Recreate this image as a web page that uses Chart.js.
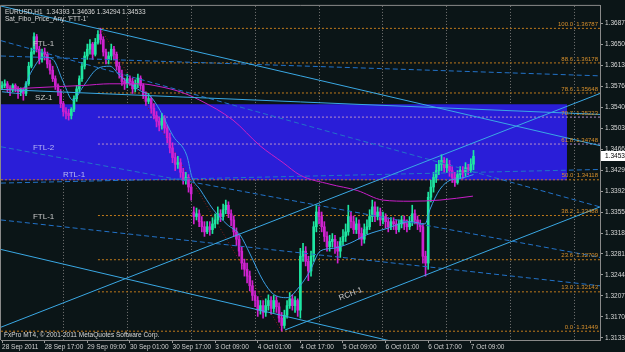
<!DOCTYPE html>
<html>
<head>
<meta charset="utf-8">
<script src="https://cdn.jsdelivr.net/npm/chart.js@4.4.0/dist/chart.umd.min.js"></script>
<style>
  html, body { margin: 0; padding: 0; background: #0b1517; }
  canvas { display: block; }
</style>
</head>
<body>
<canvas id="chart" width="625" height="352"></canvas>
<script>
// EURUSD H1, bar index = hours since 28 Sep 2011 01:00 (weekend skipped)
const opens = [
  1.3574, 1.3578, 1.3581, 1.3574, 1.3571, 1.3578, 1.3572, 1.3567, 1.3571, 1.3564,
  1.3581, 1.3612, 1.3637, 1.3664, 1.3642, 1.3624, 1.3637, 1.3633, 1.3616, 1.3605,
  1.3590, 1.3578, 1.3567, 1.3546, 1.3532, 1.3529, 1.3525, 1.3536, 1.3555, 1.3572,
  1.3590, 1.3612, 1.3630, 1.3642, 1.3651, 1.3633, 1.3654, 1.3668, 1.3659, 1.3637,
  1.3624, 1.3630, 1.3642, 1.3633, 1.3612, 1.3598, 1.3585, 1.3581, 1.3590, 1.3585,
  1.3572, 1.3581, 1.3591, 1.3578, 1.3560, 1.3550, 1.3555, 1.3538, 1.3525, 1.3515,
  1.3508, 1.3520, 1.3503, 1.3486, 1.3468, 1.3451, 1.3439, 1.3442, 1.3425, 1.3411,
  1.3416, 1.3399, 1.3355, 1.3347, 1.3352, 1.3338, 1.3329, 1.3320, 1.3329, 1.3324,
  1.3334, 1.3341, 1.3352, 1.3347, 1.3359, 1.3367, 1.3352, 1.3341, 1.3320, 1.3307,
  1.3286, 1.3265, 1.3254, 1.3242, 1.3225, 1.3208, 1.3199, 1.3182, 1.3190, 1.3178,
  1.3190, 1.3199, 1.3185, 1.3199, 1.3188, 1.3168, 1.3155, 1.3173, 1.3190, 1.3202,
  1.3190, 1.3199, 1.3182, 1.3277, 1.3286, 1.3268, 1.3251, 1.3277, 1.3329, 1.3355,
  1.3347, 1.3329, 1.3312, 1.3294, 1.3303, 1.3307, 1.3294, 1.3286, 1.3303, 1.3312,
  1.3320, 1.3347, 1.3338, 1.3324, 1.3334, 1.3317, 1.3307, 1.3324, 1.3329, 1.3347,
  1.3364, 1.3347, 1.3355, 1.3341, 1.3347, 1.3338, 1.3329, 1.3338, 1.3334, 1.3324,
  1.3334, 1.3341, 1.3334, 1.3329, 1.3338, 1.3352, 1.3341, 1.3334, 1.3329, 1.3277,
  1.3265, 1.3381, 1.3399, 1.3416, 1.3428, 1.3439, 1.3446, 1.3433, 1.3439, 1.3428,
  1.3416, 1.3407, 1.3421, 1.3428, 1.3425, 1.3433, 1.3428, 1.34393
];
const highs = [
  1.3585, 1.3588, 1.3585, 1.3578, 1.3581, 1.3581, 1.3576, 1.3574, 1.3574, 1.3585,
  1.3619, 1.3644, 1.3671, 1.3668, 1.3647, 1.3642, 1.3644, 1.3637, 1.3623, 1.3612,
  1.3595, 1.3581, 1.3571, 1.3550, 1.3539, 1.3536, 1.3539, 1.3560, 1.3578, 1.3595,
  1.3619, 1.3637, 1.3651, 1.3659, 1.3654, 1.3661, 1.3675, 1.3679, 1.3664, 1.3642,
  1.3637, 1.3651, 1.3647, 1.3637, 1.3619, 1.3605, 1.3591, 1.3598, 1.3595, 1.3591,
  1.3588, 1.3598, 1.3595, 1.3581, 1.3567, 1.3564, 1.3558, 1.3546, 1.3532, 1.3522,
  1.3529, 1.3525, 1.3508, 1.3494, 1.3477, 1.3459, 1.3453, 1.3449, 1.3432, 1.3425,
  1.3421, 1.3404, 1.3364, 1.3362, 1.3359, 1.3347, 1.3338, 1.3338, 1.3338, 1.3345,
  1.3352, 1.3364, 1.3359, 1.3369, 1.3376, 1.3373, 1.3359, 1.3348, 1.3327, 1.3314,
  1.3293, 1.3272, 1.3265, 1.3251, 1.3234, 1.3216, 1.3206, 1.3199, 1.3199, 1.3202,
  1.3209, 1.3206, 1.3208, 1.3206, 1.3195, 1.3178, 1.3182, 1.3199, 1.3213, 1.3209,
  1.3206, 1.3202, 1.3291, 1.3300, 1.3294, 1.3277, 1.3286, 1.3338, 1.3367, 1.3364,
  1.3355, 1.3338, 1.3320, 1.3314, 1.3317, 1.3314, 1.3303, 1.3310, 1.3324, 1.3334,
  1.3367, 1.3355, 1.3348, 1.3345, 1.3341, 1.3327, 1.3334, 1.3341, 1.3359, 1.3376,
  1.3373, 1.3364, 1.3362, 1.3355, 1.3352, 1.3345, 1.3345, 1.3345, 1.3341, 1.3341,
  1.3348, 1.3348, 1.3341, 1.3347, 1.3367, 1.3359, 1.3348, 1.3341, 1.3334, 1.3286,
  1.3390, 1.3411, 1.3425, 1.3439, 1.3446, 1.3456, 1.3451, 1.3449, 1.3446, 1.3435,
  1.3425, 1.3428, 1.3435, 1.3435, 1.3442, 1.3439, 1.3449, 1.34636
];
const lows = [
  1.3571, 1.3574, 1.3567, 1.3560, 1.3567, 1.3567, 1.3555, 1.3560, 1.3552, 1.3560,
  1.3578, 1.3609, 1.3633, 1.3637, 1.3616, 1.3619, 1.3623, 1.3609, 1.3598, 1.3585,
  1.3571, 1.3560, 1.3539, 1.3524, 1.3519, 1.3517, 1.3519, 1.3532, 1.3550, 1.3567,
  1.3585, 1.3607, 1.3624, 1.3633, 1.3624, 1.3630, 1.3651, 1.3651, 1.3630, 1.3616,
  1.3616, 1.3623, 1.3623, 1.3605, 1.3591, 1.3578, 1.3571, 1.3574, 1.3578, 1.3564,
  1.3567, 1.3574, 1.3571, 1.3555, 1.3543, 1.3546, 1.3529, 1.3519, 1.3505, 1.3498,
  1.3501, 1.3494, 1.3477, 1.3459, 1.3442, 1.3428, 1.3432, 1.3416, 1.3404, 1.3404,
  1.3390, 1.3376, 1.3334, 1.3341, 1.3329, 1.3320, 1.3312, 1.3317, 1.3314, 1.3317,
  1.3327, 1.3334, 1.3338, 1.3341, 1.3352, 1.3345, 1.3331, 1.3312, 1.3296, 1.3277,
  1.3254, 1.3242, 1.3230, 1.3216, 1.3199, 1.3188, 1.3171, 1.3175, 1.3168, 1.3171,
  1.3182, 1.3175, 1.3178, 1.3178, 1.3161, 1.3145, 1.3150, 1.3168, 1.3185, 1.3182,
  1.3178, 1.3171, 1.3168, 1.3268, 1.3260, 1.3234, 1.3242, 1.3268, 1.3320, 1.3334,
  1.3320, 1.3303, 1.3286, 1.3286, 1.3293, 1.3282, 1.3265, 1.3275, 1.3296, 1.3303,
  1.3314, 1.3327, 1.3317, 1.3317, 1.3307, 1.3296, 1.3300, 1.3317, 1.3324, 1.3338,
  1.3338, 1.3341, 1.3331, 1.3334, 1.3327, 1.3320, 1.3324, 1.3324, 1.3317, 1.3320,
  1.3327, 1.3324, 1.3320, 1.3324, 1.3331, 1.3334, 1.3324, 1.3320, 1.3265, 1.3242,
  1.3254, 1.3373, 1.3390, 1.3407, 1.3421, 1.3428, 1.3425, 1.3425, 1.3418, 1.3407,
  1.3400, 1.3404, 1.3414, 1.3414, 1.3418, 1.3421, 1.3425, 1.34294
];
const closes = [
  1.3578, 1.3581, 1.3574, 1.3571, 1.3578, 1.3572, 1.3567, 1.3571, 1.3564, 1.3581,
  1.3612, 1.3637, 1.3664, 1.3642, 1.3624, 1.3637, 1.3633, 1.3616, 1.3605, 1.3590,
  1.3578, 1.3567, 1.3546, 1.3532, 1.3529, 1.3525, 1.3536, 1.3555, 1.3572, 1.3590,
  1.3612, 1.3630, 1.3642, 1.3651, 1.3633, 1.3654, 1.3668, 1.3659, 1.3637, 1.3624,
  1.3630, 1.3642, 1.3633, 1.3612, 1.3598, 1.3585, 1.3581, 1.3590, 1.3585, 1.3572,
  1.3581, 1.3591, 1.3578, 1.3560, 1.3550, 1.3555, 1.3538, 1.3525, 1.3515, 1.3508,
  1.3520, 1.3503, 1.3486, 1.3468, 1.3451, 1.3439, 1.3442, 1.3425, 1.3411, 1.3416,
  1.3399, 1.3387, 1.3347, 1.3352, 1.3338, 1.3329, 1.3320, 1.3329, 1.3324, 1.3334,
  1.3341, 1.3352, 1.3347, 1.3359, 1.3367, 1.3352, 1.3341, 1.3320, 1.3307, 1.3286,
  1.3265, 1.3254, 1.3242, 1.3225, 1.3208, 1.3199, 1.3182, 1.3190, 1.3178, 1.3190,
  1.3199, 1.3185, 1.3199, 1.3188, 1.3168, 1.3155, 1.3173, 1.3190, 1.3202, 1.3190,
  1.3199, 1.3182, 1.3277, 1.3286, 1.3268, 1.3251, 1.3277, 1.3329, 1.3355, 1.3347,
  1.3329, 1.3312, 1.3294, 1.3303, 1.3307, 1.3294, 1.3286, 1.3303, 1.3312, 1.3320,
  1.3347, 1.3338, 1.3324, 1.3334, 1.3317, 1.3307, 1.3324, 1.3329, 1.3347, 1.3364,
  1.3347, 1.3355, 1.3341, 1.3347, 1.3338, 1.3329, 1.3338, 1.3334, 1.3324, 1.3334,
  1.3341, 1.3334, 1.3329, 1.3338, 1.3352, 1.3341, 1.3334, 1.3329, 1.3277, 1.3265,
  1.3381, 1.3399, 1.3416, 1.3428, 1.3439, 1.3446, 1.3433, 1.3439, 1.3428, 1.3416,
  1.3407, 1.3421, 1.3428, 1.3425, 1.3433, 1.3428, 1.34393, 1.34533
];

// axis ticks
const xLabelBars = [0, 16, 32, 48, 64, 80, 96, 112, 128, 144, 160, 176];
const xLabels = ['28 Sep 2011', '28 Sep 17:00', '29 Sep 09:00', '30 Sep 01:00', '30 Sep 17:00', '3 Oct 09:00',
                 '4 Oct 01:00', '4 Oct 17:00', '5 Oct 09:00', '6 Oct 01:00', '6 Oct 17:00', '7 Oct 09:00'];
const daySeparators = [23, 47, 71, 95, 119, 143, 167, 191, 215];
const priceTicks = [1.36870, 1.36500, 1.36130, 1.35760, 1.35400, 1.35030, 1.34660, 1.34290,
                    1.33920, 1.33550, 1.33180, 1.32810, 1.32440, 1.32070, 1.31700, 1.31330];

// fibo retracement (anchors: high bar 37, low bar 105)
const fibLevels = [100.0, 88.6, 78.6, 70.7, 61.8, 50.0, 38.2, 23.6, 13.0, 0.0];
const fibPrices = [1.36787, 1.36178, 1.35648, 1.35223, 1.34748, 1.34118, 1.33488, 1.32709, 1.32143, 1.31449];
const fibAnchorBars = [37, 105];
const fibFullWidth = [50.0, 0.0];

// supply zone rectangle
const zoneBars = [-0.4, 212.1];
const zonePrices = [1.3411, 1.3545];

// trend lines: [bar0, price0, bar1, price1]
const solidLines = [
  [-0.4, 1.3718, 224.5, 1.3472],
  [-0.4, 1.3571, 224.5, 1.3527],
  [-0.4, 1.3289, 224.5, 1.3041],
  [-0.4, 1.3152, 224.5, 1.3564],
  [106.2, 1.3147, 224.5, 1.3364]
];
const dashedLines = [
  [-0.4, 1.3657, 224.5, 1.3364],
  [-0.4, 1.3630, 224.5, 1.3595],
  [-0.4, 1.3470, 224.5, 1.3275],
  [-0.4, 1.3406, 224.5, 1.3430],
  [-0.4, 1.3341, 224.5, 1.3225]
];

// moving averages
const fastMaBars = [0, 6.7, 11.2, 15.4, 19.1, 22.9, 26.6, 30.4, 35.6, 40.5, 44.3, 51.8, 55.5, 59.3, 64.2, 69.4,
  71.3, 74.3, 79.2, 84.5, 89.3, 93.1, 98, 101.7, 107, 111.9, 115.6, 119.4, 124.3, 130.6, 137, 144.5, 153.2,
  158.8, 160.7, 164.4, 168.2, 171.9, 177];
const fastMa = [1.3567, 1.3564, 1.3604, 1.3628, 1.3624, 1.3585, 1.3552, 1.3576, 1.3607, 1.3612, 1.3595, 1.3569,
  1.3560, 1.3534, 1.3489, 1.3454, 1.3416, 1.3395, 1.3360, 1.3333, 1.3315, 1.3281, 1.3234, 1.3211, 1.3204, 1.3225,
  1.3251, 1.3286, 1.3291, 1.3300, 1.3315, 1.3326, 1.3338, 1.3334, 1.3360, 1.3395, 1.3411, 1.3414, 1.3421];
const slowMaBars = [-0.4, 20.6, 30.4, 40.5, 51.8, 59.3, 66.8, 74.3, 86.7, 96.8, 105.5, 111.9, 123.1, 133.3, 143, 153.2, 164.4, 176.8];
const slowMa = [1.3571, 1.3576, 1.3578, 1.3581, 1.3581, 1.3576, 1.3567, 1.3552, 1.3517, 1.3472, 1.3442, 1.3420,
  1.3404, 1.3393, 1.3376, 1.3374, 1.3376, 1.3383];

// object names drawn on the chart
const objectNames = ['FTL-1', 'SZ-1', 'FTL-2', 'RTL-1', 'FTL-1', 'RCH-1'];
const objectBars = [11.6, 12.4, 11.6, 22.9, 11.6, 126.9];
const objectPrices = [1.3648, 1.3553, 1.3464, 1.3416, 1.3343, 1.3199];

const symbol = 'EURUSD,H1';
const indicatorName = "Sat_Fibo_Price_Any: 'FTT-1'";
const copyright = 'FxPro MT4, \u00a9 2001-2011 MetaQuotes Software Corp.';

const FONT = '"Liberation Sans", Arial, sans-serif';
const upColor = '#1ee6a2';
const downColor = '#cf22cf';
const last = closes.length - 1;
const barIdx = closes.map((c, i) => i);
const candleColor = barIdx.map(i => closes[i] >= opens[i] ? upColor : downColor);
const seg = l => [{ x: l[0], y: l[1] }, { x: l[2], y: l[3] }];

const datasets = [];
// zone (bottom edge then top edge filled to it)
datasets.push({ type: 'line', data: [{ x: zoneBars[0], y: zonePrices[0] }, { x: zoneBars[1], y: zonePrices[0] }],
  borderWidth: 0, pointRadius: 0, order: 21 });
datasets.push({ type: 'line', data: [{ x: zoneBars[0], y: zonePrices[1] }, { x: zoneBars[1], y: zonePrices[1] }],
  borderWidth: 0, pointRadius: 0, fill: '-1', backgroundColor: '#2a1ed8', order: 20 });
// fibo levels
fibLevels.forEach((lv, i) => {
  const start = fibFullWidth.includes(lv) ? -0.4 : fibAnchorBars[0] - 1;
  const inZone = fibPrices[i] > zonePrices[0] + 0.0001 && fibPrices[i] < zonePrices[1];
  datasets.push({ type: 'line', data: [{ x: start, y: fibPrices[i] }, { x: 224.5, y: fibPrices[i] }],
    borderColor: inZone ? '#b890c8' : '#c07a1c', borderWidth: 1, borderDash: [2, 2], pointRadius: 0, order: 10 });
});
// fibo anchor line
datasets.push({ type: 'line', data: [{ x: fibAnchorBars[0], y: fibPrices[0] }, { x: fibAnchorBars[1], y: fibPrices[9] }],
  borderColor: '#8a1c1c', borderWidth: 1, borderDash: [1, 2], pointRadius: 0, order: 9 });
// candles
datasets.push({ type: 'bar', data: barIdx.map(i => ({ x: i, y: [lows[i], highs[i]] })), backgroundColor: candleColor,
  barThickness: 1, grouped: false, order: 6 });
datasets.push({ type: 'bar', data: barIdx.map(i => ({ x: i, y: [opens[i], closes[i]] })), backgroundColor: candleColor,
  barThickness: 2, grouped: false, minBarLength: 1, order: 5 });
// moving averages
datasets.push({ type: 'line', data: slowMaBars.map((t, i) => ({ x: t, y: slowMa[i] })), borderColor: '#c81ec8',
  borderWidth: 1, pointRadius: 0, cubicInterpolationMode: 'monotone', order: 3 });
datasets.push({ type: 'line', data: fastMaBars.map((t, i) => ({ x: t, y: fastMa[i] })), borderColor: '#3aa0e6',
  borderWidth: 1, pointRadius: 0, cubicInterpolationMode: 'monotone', order: 3 });
// trend lines
dashedLines.forEach(l => datasets.push({ type: 'line', data: seg(l), borderColor: '#2272c8', borderWidth: 1,
  borderDash: [5, 3], pointRadius: 0, order: 2 }));
solidLines.forEach(l => datasets.push({ type: 'line', data: seg(l), borderColor: '#3aa8e4', borderWidth: 1,
  pointRadius: 0, order: 1 }));

const overlay = {
  id: 'overlay',
  beforeDraw(chart) {
    const c = chart.ctx;
    c.save();
    c.fillStyle = '#0b1517';
    c.fillRect(0, 0, chart.width, chart.height);
    c.restore();
  },
  afterDatasetsDraw(chart) {
    const { ctx: c, chartArea: a } = chart;
    const x = chart.scales.x, y = chart.scales.y;
    c.save();
    c.font = '6px ' + FONT;
    // fibo labels
    c.textAlign = 'right';
    c.textBaseline = 'bottom';
    c.fillStyle = '#d8902c';
    fibLevels.forEach((lv, i) => {
      c.fillText(lv.toFixed(1) + '  ' + fibPrices[i].toFixed(5), a.right - 2, y.getPixelForValue(fibPrices[i]) - 1);
    });
    // object names
    c.textAlign = 'left';
    c.textBaseline = 'alphabetic';
    c.font = '8px ' + FONT;
    objectNames.forEach((n, i) => {
      const px = x.getPixelForValue(objectBars[i]), py = y.getPixelForValue(objectPrices[i]);
      const onZone = objectPrices[i] > zonePrices[0] && objectPrices[i] < zonePrices[1];
      c.fillStyle = onZone ? '#b8b8f4' : '#c8c8c8';
      if (n === 'RCH-1') {
        const l = solidLines[4];
        const ang = Math.atan2(y.getPixelForValue(l[3]) - y.getPixelForValue(l[1]),
                               x.getPixelForValue(l[2]) - x.getPixelForValue(l[0]));
        c.save(); c.translate(px, py); c.rotate(ang); c.fillText(n, 0, 0); c.restore();
      } else {
        c.fillText(n, px, py);
      }
    });
    // header and copyright
    c.font = '6.5px ' + FONT;
    c.fillStyle = '#d8d8d8';
    c.textBaseline = 'top';
    c.fillText(symbol + '  ' + [opens[last], highs[last], lows[last], closes[last]].map(v => v.toFixed(5)).join(' '),
      a.left + 4, a.top + 3);
    c.fillText(indicatorName, a.left + 4, a.top + 10);
    c.textBaseline = 'bottom';
    c.fillText(copyright, a.left + 3, a.bottom - 2);
    c.restore();
  },
  afterDraw(chart) {
    const { ctx: c, chartArea: a } = chart;
    const y = chart.scales.y;
    c.save();
    c.strokeStyle = '#8a8a8a';
    c.lineWidth = 1;
    c.beginPath();
    c.moveTo(a.left - 0.5, a.bottom); c.lineTo(a.left - 0.5, a.top - 0.5); c.lineTo(a.right, a.top - 0.5);
    c.stroke();
    // current price box
    const py = Math.round(y.getPixelForValue(closes[last]));
    c.fillStyle = '#ffffff';
    c.fillRect(a.right + 1, py - 5, 25, 10);
    c.fillStyle = '#000000';
    c.font = '6.5px ' + FONT;
    c.textBaseline = 'middle';
    c.fillText(closes[last].toFixed(5), a.right + 5, py);
    c.restore();
  }
};

new Chart(document.getElementById('chart'), {
  type: 'bar',
  data: { datasets },
  options: {
    responsive: false,
    animation: false,
    events: [],
    layout: { padding: { top: 1, left: 1, right: 0, bottom: 0 } },
    plugins: { legend: { display: false }, tooltip: { enabled: false } },
    scales: {
      x: {
        type: 'linear', min: -0.4, max: 224.5, offset: false,
        afterBuildTicks: s => {
          s.ticks = [...xLabelBars, ...daySeparators].sort((p, q) => p - q).map(v => ({ value: v }));
        },
        afterFit: s => { s.height = 12; },
        ticks: {
          autoSkip: false, maxRotation: 0, align: 'start', padding: 0, color: '#d0d0d0',
          font: { family: FONT, size: 6.5 },
          callback: v => { const k = xLabelBars.indexOf(v); return k >= 0 ? xLabels[k] : ''; }
        },
        grid: {
          offset: false, tickLength: 3,
          color: ctx => daySeparators.includes(ctx.tick && ctx.tick.value) ? '#767676' : 'rgba(0,0,0,0)',
          tickColor: ctx => xLabelBars.includes(ctx.tick && ctx.tick.value) ? '#9a9a9a' : 'rgba(0,0,0,0)'
        },
        border: { color: '#8a8a8a', dash: [1, 2] }
      },
      y: {
        position: 'right', min: 1.31294, max: 1.37183, beginAtZero: false,
        afterBuildTicks: s => { s.ticks = priceTicks.map(v => ({ value: v })); },
        afterFit: s => { s.width = 25; },
        ticks: { autoSkip: false, padding: 2, color: '#d8d8d8', font: { family: FONT, size: 6.5 },
          callback: v => v.toFixed(5) },
        grid: { drawOnChartArea: false, tickLength: 3, tickColor: '#9a9a9a' },
        border: { color: '#8a8a8a' }
      }
    }
  },
  plugins: [overlay]
});
</script>
</body>
</html>
